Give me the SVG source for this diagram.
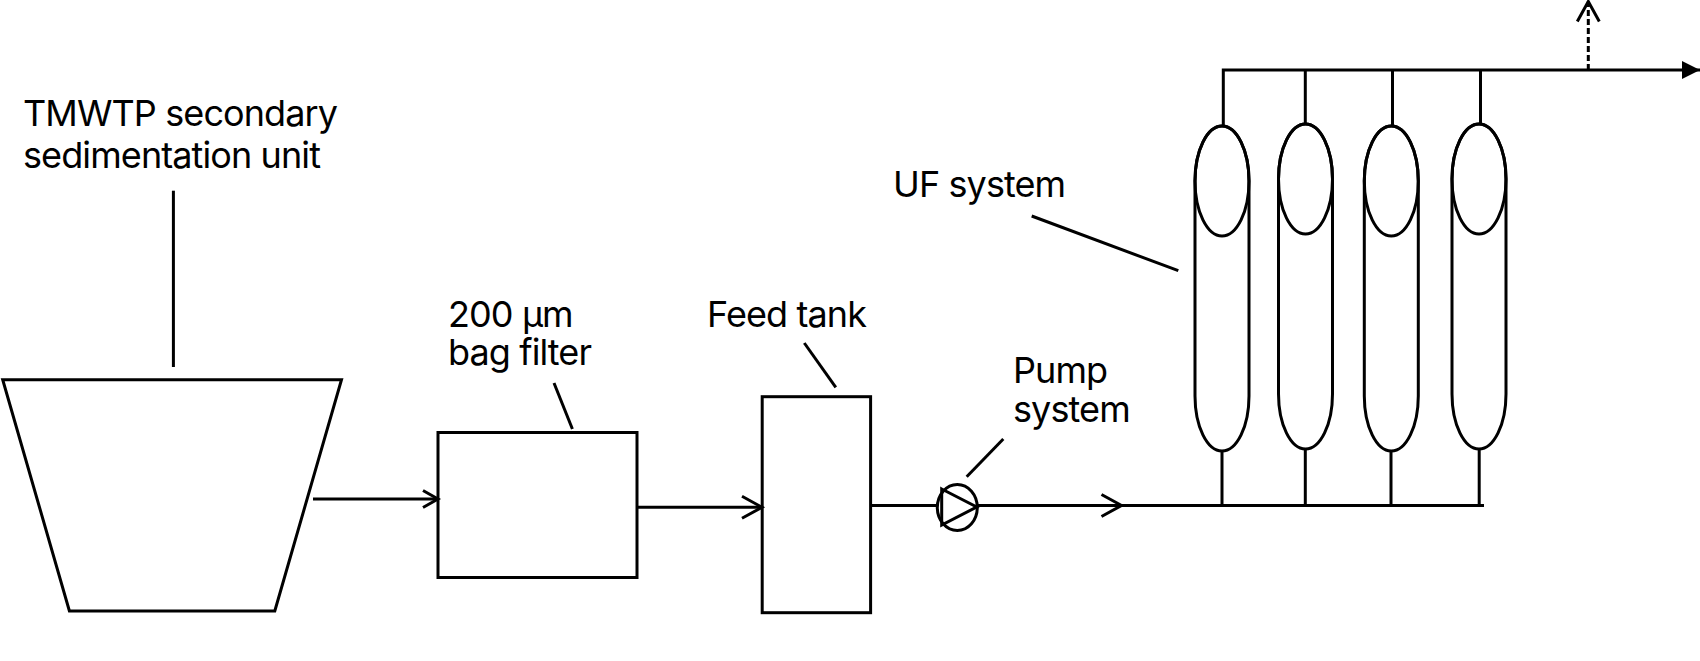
<svg xmlns="http://www.w3.org/2000/svg" width="1700" height="661" viewBox="0 0 1700 661">
<style>
.s{fill:none;stroke:#000;stroke-width:3;stroke-linejoin:miter}
.t{font-family:Inter,"Liberation Sans",Arial,sans-serif;font-size:36px;letter-spacing:-0.9px;fill:#000}
</style>
<defs>
<marker id="chev" markerUnits="userSpaceOnUse" viewBox="-2 -2 24 26" markerWidth="24" markerHeight="26" refX="20" refY="11" orient="auto" overflow="visible">
<path d="M0,0 L20,11 L0,22" fill="none" stroke="#000" stroke-width="3"/>
</marker>
<marker id="chevS" markerUnits="userSpaceOnUse" viewBox="-2 -2 19 21" markerWidth="19" markerHeight="21" refX="15" refY="8.5" orient="auto" overflow="visible">
<path d="M0,0 L15,8.5 L0,17" fill="none" stroke="#000" stroke-width="3"/>
</marker>
<marker id="tri" markerUnits="userSpaceOnUse" viewBox="0 0 18 18" markerWidth="18" markerHeight="18" refX="18" refY="9" orient="auto" overflow="visible">
<path d="M0,0 L18,9 L0,18 Z" fill="#000"/>
</marker>
</defs>
<rect width="1700" height="661" fill="#fff"/>

<g id="sedimentation-unit">
<polygon class="s" points="2.7,379.7 341.5,379.7 274.8,611 69.4,611"/>
<text class="t" x="23" y="126">TMWTP secondary</text>
<text class="t" x="23" y="168">sedimentation unit</text>
<line class="s" x1="173.4" y1="190.7" x2="173.4" y2="367"/>
</g>

<g id="bag-filter">
<rect class="s" x="438" y="432.5" width="199" height="145"/>
<text class="t" x="448" y="327">200 µm</text>
<text class="t" x="448" y="365">bag filter</text>
<line class="s" x1="554" y1="383" x2="572.4" y2="429"/>
</g>

<g id="feed-tank">
<rect class="s" x="762.2" y="396.7" width="108.4" height="216"/>
<text class="t" x="707" y="327">Feed tank</text>
<line class="s" x1="804.3" y1="343" x2="835.8" y2="387.3"/>
</g>

<g id="pump">
<ellipse class="s" cx="957.3" cy="507.5" rx="20" ry="23"/>
<path class="s" d="M941.7,489 L976.7,507 L941.7,525 Z"/>
<text class="t" x="1013" y="383">Pump</text>
<text class="t" x="1013" y="422">system</text>
<line class="s" x1="1003.3" y1="439" x2="966.7" y2="476.7"/>
</g>

<g id="uf-system">
<text class="t" x="893" y="197">UF system</text>
<line class="s" x1="1031.7" y1="216" x2="1178.3" y2="270.7"/>
<g id="uf-module-1">
<path class="s" d="M1195,181 A27,55 0 0 1 1249,181 V396 A27,55 0 0 1 1195,396 Z"/>
<ellipse class="s" cx="1222" cy="181" rx="27" ry="55"/>
</g>
<g id="uf-module-2">
<path class="s" d="M1278.5,179 A27,55 0 0 1 1332.5,179 V394 A27,55 0 0 1 1278.5,394 Z"/>
<ellipse class="s" cx="1305.5" cy="179" rx="27" ry="55"/>
</g>
<g id="uf-module-3">
<path class="s" d="M1364.3,181 A27,55 0 0 1 1418.3,181 V396 A27,55 0 0 1 1364.3,396 Z"/>
<ellipse class="s" cx="1391.3" cy="181" rx="27" ry="55"/>
</g>
<g id="uf-module-4">
<path class="s" d="M1452,179 A27,55 0 0 1 1506,179 V394 A27,55 0 0 1 1452,394 Z"/>
<ellipse class="s" cx="1479" cy="179" rx="27" ry="55"/>
</g>
</g>

<g id="connectors">
<line class="s" x1="313" y1="499" x2="438" y2="499" marker-end="url(#chevS)"/>
<line class="s" x1="637" y1="507.3" x2="762" y2="507.3" marker-end="url(#chev)"/>
<line class="s" x1="870.6" y1="505.5" x2="937.3" y2="505.5"/>
<line class="s" x1="977.3" y1="505.5" x2="1121.5" y2="505.5" marker-end="url(#chev)"/>
<line class="s" x1="1121.5" y1="505.5" x2="1484" y2="505.5"/>
<line class="s" x1="1222" y1="451" x2="1222" y2="505.5"/>
<line class="s" x1="1305.3" y1="449" x2="1305.3" y2="505.5"/>
<line class="s" x1="1391" y1="451" x2="1391" y2="505.5"/>
<line class="s" x1="1479.2" y1="449" x2="1479.2" y2="505.5"/>
<path class="s" d="M1223.3,126 V70 H1700" marker-end="url(#tri)"/>
<line class="s" x1="1305.3" y1="70" x2="1305.3" y2="124"/>
<line class="s" x1="1392.5" y1="70" x2="1392.5" y2="126"/>
<line class="s" x1="1480.5" y1="70" x2="1480.5" y2="124"/>
<line class="s" x1="1588.3" y1="70" x2="1588.3" y2="1.5" stroke-dasharray="6 3" marker-end="url(#chev)"/>
</g>
</svg>
